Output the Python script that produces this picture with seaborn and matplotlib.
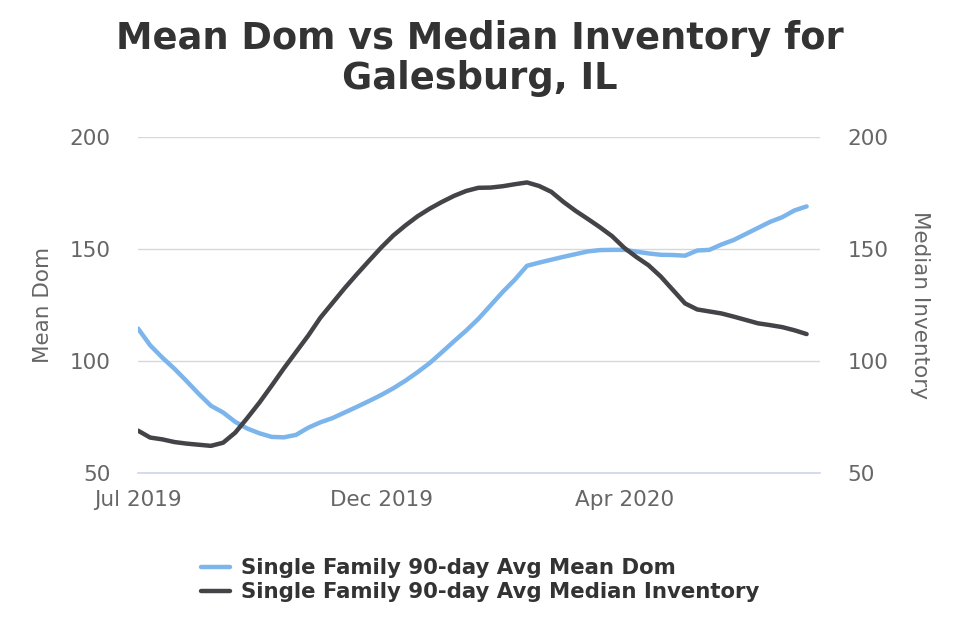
import matplotlib
matplotlib.use("Agg")
import matplotlib.pyplot as plt
import seaborn as sns
import pandas as pd
import numpy as np

sns.set_style("white")
plt.rcParams["font.family"] = ["DejaVu Sans"]

# weekly points, tick label every 20 points
tick_positions = [0, 20, 40]
tick_labels = ["Jul 2019", "Dec 2019", "Apr 2020"]

mean_dom = [
    114.5, 107.0, 101.5, 96.5, 91.0, 85.3, 80.0, 77.0, 72.8, 69.8,
    67.7, 66.1, 65.9, 67.0, 70.2, 72.6, 74.5, 77.0, 79.5, 82.1,
    84.8, 87.8, 91.2, 95.0, 99.1, 103.9, 108.8, 113.6, 118.8, 124.8,
    130.8, 136.3, 142.5, 143.9, 145.2, 146.5, 147.7, 148.9, 149.5, 149.6,
    149.6, 148.8, 148.0, 147.4, 147.3, 147.0, 149.3, 149.6, 152.0, 154.0,
    156.7, 159.4, 162.1, 164.2, 167.2, 169.0,
]

median_inventory = [
    68.9, 65.8, 65.0, 63.8, 63.1, 62.6, 62.1, 63.5, 68.0, 74.6,
    81.5, 89.0, 96.7, 104.0, 111.3, 119.3, 125.9, 132.5, 138.7, 144.7,
    150.6, 156.0, 160.5, 164.6, 168.0, 171.0, 173.7, 175.9, 177.3, 177.4,
    178.0, 178.9, 179.7, 178.1, 175.5, 171.0, 167.0, 163.4, 159.7, 155.7,
    150.5, 146.4, 142.7, 137.7, 131.7, 125.7, 123.0, 122.1, 121.2, 119.8,
    118.3, 116.8, 116.0, 115.1, 113.7, 112.0,
]

df = pd.DataFrame({
    "idx": np.arange(len(mean_dom)),
    "mean_dom": mean_dom,
    "median_inventory": median_inventory,
})

blue = "#7cb5ec"
dark = "#434348"
text_col = "#666666"

fig = plt.figure(figsize=(9.6, 6.4), dpi=100)
ax = fig.add_axes([0.14375, 0.261, 0.7104, 0.525])
ax2 = ax.twinx()

sns.lineplot(data=df, x="idx", y="mean_dom", ax=ax, color=blue, linewidth=3.2,
             label="Single Family 90-day Avg Mean Dom", legend=False)
sns.lineplot(data=df, x="idx", y="median_inventory", ax=ax2, color=dark, linewidth=3.2,
             label="Single Family 90-day Avg Median Inventory", legend=False)

for a in (ax, ax2):
    a.set_ylim(50, 200)
    a.set_yticks([50, 100, 150, 200])
    a.set_xlim(0, 56.1)
    for s in a.spines.values():
        s.set_visible(False)
    a.tick_params(axis="y", length=0, labelsize=15.5, labelcolor=text_col, pad=20)

ax.yaxis.grid(True, color="#d8d8d8", linewidth=1)
ax.set_axisbelow(True)
ax.spines["bottom"].set_visible(True)
ax.spines["bottom"].set_color("#ccd6eb")
ax.spines["bottom"].set_linewidth(1.2)

ax.set_xticks(tick_positions)
ax.set_xticklabels(tick_labels)
ax.tick_params(axis="x", length=10, width=1.2, color="#ccd6eb", labelsize=15.5,
               labelcolor=text_col, pad=2)

ax.set_xlabel("")
ax.set_ylabel("Mean Dom", fontsize=15.5, color=text_col, labelpad=12)
ax2.set_ylabel("Median Inventory", fontsize=15.5, color=text_col, rotation=270, labelpad=30)

fig.suptitle("Mean Dom vs Median Inventory for\nGalesburg, IL", fontsize=26.5,
             fontweight="bold", color="#333333", y=0.968, linespacing=1.1)

h1, l1 = ax.get_legend_handles_labels()
h2, l2 = ax2.get_legend_handles_labels()
leg = fig.legend(h1 + h2, l1 + l2, loc="upper center", bbox_to_anchor=(0.5, 0.158),
                 frameon=False, prop={"weight": "bold", "size": 15.3},
                 handlelength=1.4, handletextpad=0.5, labelspacing=0.2)
for t in leg.get_texts():
    t.set_color("#333333")

fig.savefig("out.png", dpi=100)
